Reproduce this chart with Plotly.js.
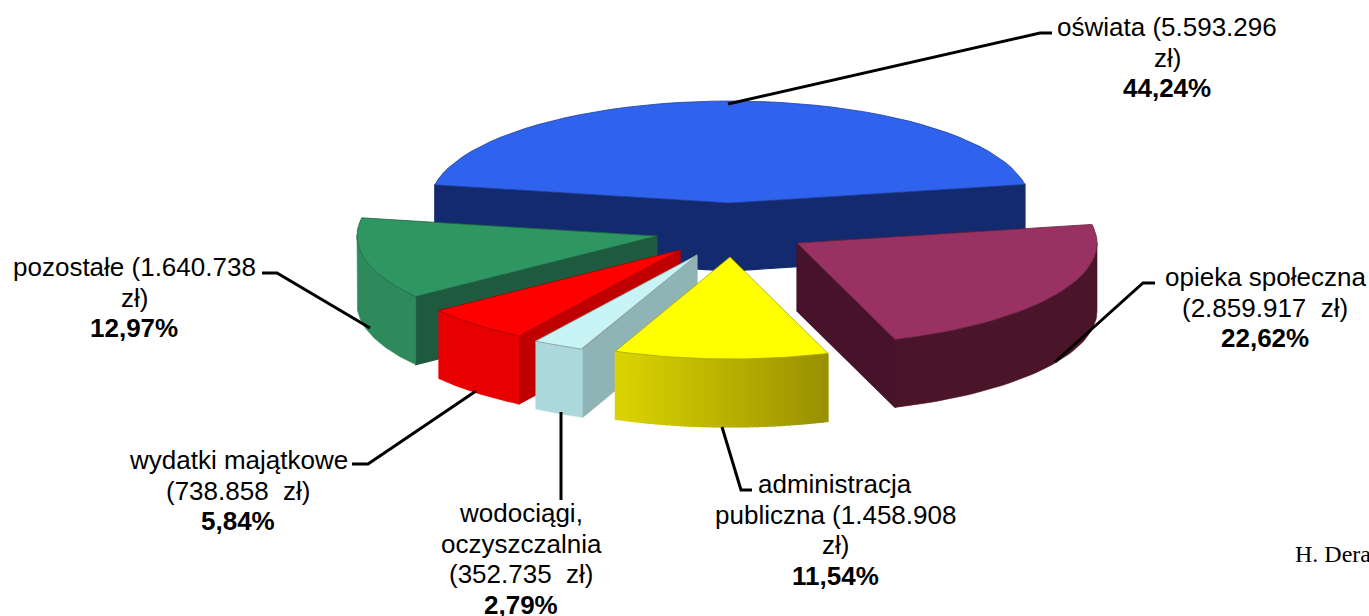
<!DOCTYPE html>
<html>
<head>
<meta charset="utf-8">
<script src="https://cdn.plot.ly/plotly-3.0.1.min.js"></script>
<style>html,body{margin:0;padding:0;background:#fff;overflow:hidden}#chart{width:1369px;height:616px}</style>
</head>
<body>
<div id="chart"></div>
<script>
// Data, in clockwise order starting at the right edge of the "oświata" slice
const categories = ["opieka społeczna", "administracja publiczna", "wodociągi, oczyszczalnia", "wydatki majątkowe", "pozostałe", "oświata"];
const amounts = [2859917, 1458908, 352735, 738858, 1640738, 5593296];
const labelLines = [
  ["opieka społeczna", "(2.859.917  zł)", "<b>22,62%</b>"],
  ["administracja", "publiczna (1.458.908", "zł)", "<b>11,54%</b>"],
  ["wodociągi,", "oczyszczalnia", "(352.735  zł)", "<b>2,79%</b>"],
  ["wydatki majątkowe", "(738.858  zł)", "<b>5,84%</b>"],
  ["pozostałe (1.640.738", "zł)", "<b>12,97%</b>"],
  ["oświata (5.593.296", "zł)", "<b>44,24%</b>"]
];
// Styling of each slice: apex position (explosion), colours, label anchor
const apexX = [797, 730, 697, 680, 657, 730];
const apexY = [243, 257, 255, 250, 236, 203];
const topColors = ["#993262", "#ffff00", "#c9f4f5", "#ff0000", "#2e9662", "#2f63ee"];
const wallLeft = ["#4a1429", "#dcd400", "#acd8dc", "#e80000", "#2e8a5c", "#142a6e"];
const wallRight = ["#4a1429", "#989000", "#acd8dc", "#e80000", "#2e8a5c", "#142a6e"];
const edgeColors = ["#47132a", "#d8d000", "#8fb4b6", "#c00000", "#1e5a40", "#142a6e"];
const labelX = [1265, 835, 521, 238, 134, 1167];
const labelY = [277, 484, 513, 460, 267, 27];
const paintOrder = [5, 4, 3, 2, 1, 0];
const leaders = [
  [[1052, 33], [1040, 33], [728, 104]],
  [[1155, 283], [1143, 283], [1055, 362]],
  [[262, 273], [277, 273], [370, 328]],
  [[352, 464], [368, 464], [476, 391]],
  [[561, 412], [561, 500]],
  [[722, 427], [741, 490], [752, 490]]
];
const radiusX = 300, radiusY = 102, depth = 68, startAngle = 10.5, lineGap = 30.5, fontSize = 26;

const total = amounts.reduce((a, b) => a + b, 0);
const rad = d => d * Math.PI / 180;
const hex = c => [1, 3, 5].map(i => parseInt(c.substr(i, 2), 16));
const mix = (a, b, t) => { const A = hex(a), B = hex(b); return "rgb(" + A.map((v, i) => Math.round(v + (B[i] - v) * t)).join(",") + ")"; };

let angle = startAngle;
const spans = amounts.map(v => { const s = angle, e = angle - v / total * 360; angle = e; return [s, e]; });
const traces = [];
function poly(xs, ys, color, line, w) {
  traces.push({ type: "scatter", mode: "lines", x: xs.concat(xs[0]), y: ys.concat(ys[0]), fill: "toself", fillcolor: color,
    line: { color: line || color, width: w === undefined ? 1.2 : w }, hoverinfo: "skip", showlegend: false });
}
paintOrder.forEach(i => {
  const [s, e] = spans[i], cx = apexX[i], cy = apexY[i];
  const px = a => cx + radiusX * Math.cos(rad(a)), py = a => cy - radiusY * Math.sin(rad(a));
  // radial side walls that face the viewer
  [s, e].forEach((a, k) => {
    const c = Math.cos(rad(a));
    if ((k === 0 && c < 0) || (k === 1 && c > 0)) {
      poly([cx, px(a), px(a), cx], [cy, py(a), py(a) + depth, cy + depth], edgeColors[i]);
    }
  });
  // outer curved wall: one face, or vertical strips where the shade changes
  const lo = [], n = 48;
  for (let j = 0; j <= n; j++) { const a = s + (e - s) * j / n; if (Math.sin(rad(a)) <= 0.02) lo.push(a); }
  if (lo.length > 1) {
    if (wallLeft[i] === wallRight[i]) {
      const xs = lo.map(px).concat(lo.slice().reverse().map(px));
      const ys = lo.map(py).concat(lo.slice().reverse().map(a => py(a) + depth));
      poly(xs, ys, wallLeft[i], wallLeft[i], 0.6);
    } else {
      const xmin = Math.min(...lo.map(px)), xmax = Math.max(...lo.map(px));
      for (let j = 0; j < lo.length - 1; j++) {
        const a = lo[j], b = lo[j + 1];
        const t = ((px(a) + px(b)) / 2 - xmin) / (xmax - xmin);
        poly([px(a), px(b), px(b), px(a)], [py(a), py(b), py(b) + depth, py(a) + depth], mix(wallLeft[i], wallRight[i], t));
      }
    }
  }
  // top face
  const xs = [cx], ys = [cy];
  for (let j = 0; j <= n; j++) { const a = s + (e - s) * j / n; xs.push(px(a)); ys.push(py(a)); }
  poly(xs, ys, topColors[i], mix(topColors[i], "#000000", 0.35), 0.8);
});
leaders.forEach(l => traces.push({ type: "scatter", mode: "lines", x: l.map(p => p[0]), y: l.map(p => p[1]),
  line: { color: "#000", width: 3 }, hoverinfo: "skip", showlegend: false }));

const annotations = [];
labelLines.forEach((lines, i) => lines.forEach((t, k) => annotations.push({
  x: labelX[i], y: labelY[i] + k * lineGap, xref: "x", yref: "y", text: t, showarrow: false, xanchor: "center", yanchor: "middle",
  font: { family: "Liberation Sans, Arial, sans-serif", size: fontSize, color: "#000" }
})));
annotations.push({ x: 1293, y: 554, xref: "x", yref: "y", text: "H. Dera", showarrow: false, xanchor: "left", yanchor: "middle",
  font: { family: "Liberation Serif, serif", size: 24, color: "#000" } });

Plotly.newPlot("chart", traces, {
  width: 1369, height: 616, margin: { l: 0, r: 0, t: 0, b: 0 }, paper_bgcolor: "#fff", plot_bgcolor: "#fff", showlegend: false,
  xaxis: { range: [0, 1369], visible: false, fixedrange: true },
  yaxis: { range: [616, 0], visible: false, fixedrange: true },
  annotations: annotations
}, { displayModeBar: false, staticPlot: true });
</script>
</body>
</html>
